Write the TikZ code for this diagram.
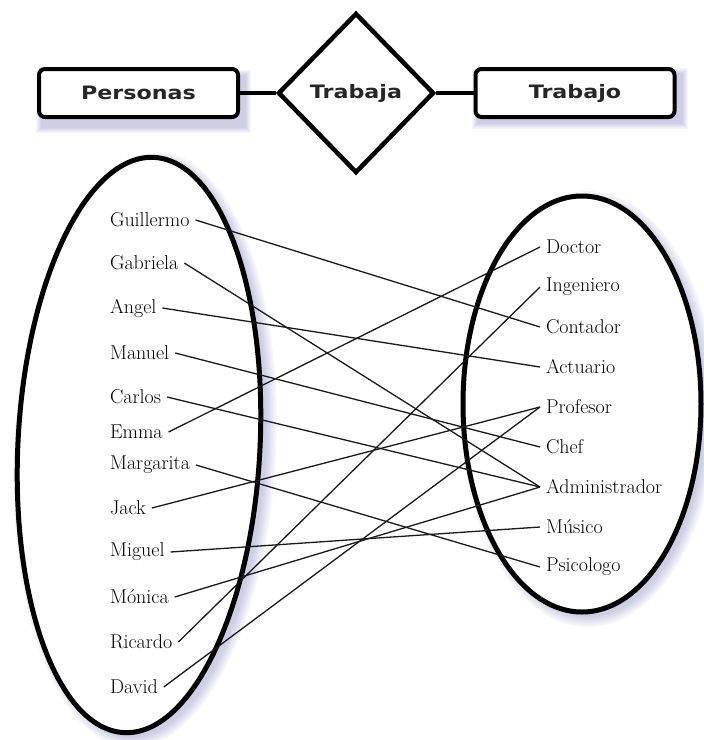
\documentclass[tikz,border=0pt]{standalone}
\usepackage{fontspec}
\usepackage{tikz}
\usetikzlibrary{shapes.geometric}
\newfontfamily\headfont{DejaVu Sans Bold}[FakeStretch=1.2]
\definecolor{glowcol}{RGB}{70,80,160}
\tikzset{
  entity/.style={draw, line width=4pt, rounded corners=6pt, fill=white,
    minimum width=199pt, minimum height=48pt,
    font=\headfont\fontsize{18.5}{20}\selectfont, text=black!85},
  relation/.style={diamond, draw, line width=4.5pt, fill=white, inner sep=0pt,
    minimum width=156pt, minimum height=160pt,
    font=\headfont\fontsize{18.5}{20}\selectfont, text=black!85},
  item/.style={anchor=west, inner sep=1pt, outer sep=5pt,
    font=\fontsize{20}{22}\selectfont, text=black},
  glow/.style={fill=glowcol, opacity=0.05},
  link/.style={line width=1.3pt, black!90}
}
\begin{document}
\begin{tikzpicture}[x=1pt, y=-1pt]
      \useasboundingbox (0, 0) rectangle (704, 740);

      % Shadows
      \foreach \k in {0,...,5} {
        \fill [glow] (41-\k, 75-\k) rectangle (246+\k, 128+\k);
        \fill [glow] (477-\k, 73-\k) rectangle (683+\k, 124+\k);
        \fill [glow, rotate around={-3:(145, 450)}] (145, 450) ellipse [x radius=121+2*\k, y radius=288+2*\k];
        \fill [glow] (588, 409) ellipse [x radius=118+2*\k, y radius=208+2*\k];
      }

      % Sets
      \draw [line width=5pt, fill=white, rotate around={-3:(139, 445)}] (139, 445) ellipse [x radius=121, y radius=288];
      \draw [line width=5pt, fill=white] (582, 404) ellipse [x radius=119, y radius=208];

      % Entities and relation
      \node [entity] (per) at (138.5, 93) {Personas};
      \node [relation] (rel) at (356, 93) {Trabaja};
      \node [entity] (tra) at (575, 93) {Trabajo};
      \draw [line width=4pt] (per.east) -- (rel.west);
      \draw [line width=4pt] (rel.east) -- (tra.west);

      % Elements
      \foreach \n/\t/\y in {gui/Guillermo/220, gab/Gabriela/263, ang/Angel/308,
          man/Manuel/353, car/Carlos/397, emm/Emma/432, mar/Margarita/465,
          jac/Jack/508, mig/Miguel/552, mon/Mónica/597, ric/Ricardo/642, dav/David/687}
        \node [item] (\n) at (104, \y) {\t};
      \foreach \n/\t/\y in {doc/Doctor/247, ing/Ingeniero/287, con/Contador/327,
          act/Actuario/367, pro/Profesor/407, che/Chef/447, adm/Administrador/487,
          mus/Músico/527, psi/Psicologo/567}
        \node [item] (\n) at (540, \y) {\t};

      % Pairs
      \foreach \a/\b in {gui/con, gab/adm, ang/act, man/che, car/adm, emm/doc,
          mar/psi, jac/pro, mig/mus, mon/adm, ric/ing, dav/pro}
        \draw [link] (\a.east) -- (\b.west);
    \end{tikzpicture}
\end{document}
